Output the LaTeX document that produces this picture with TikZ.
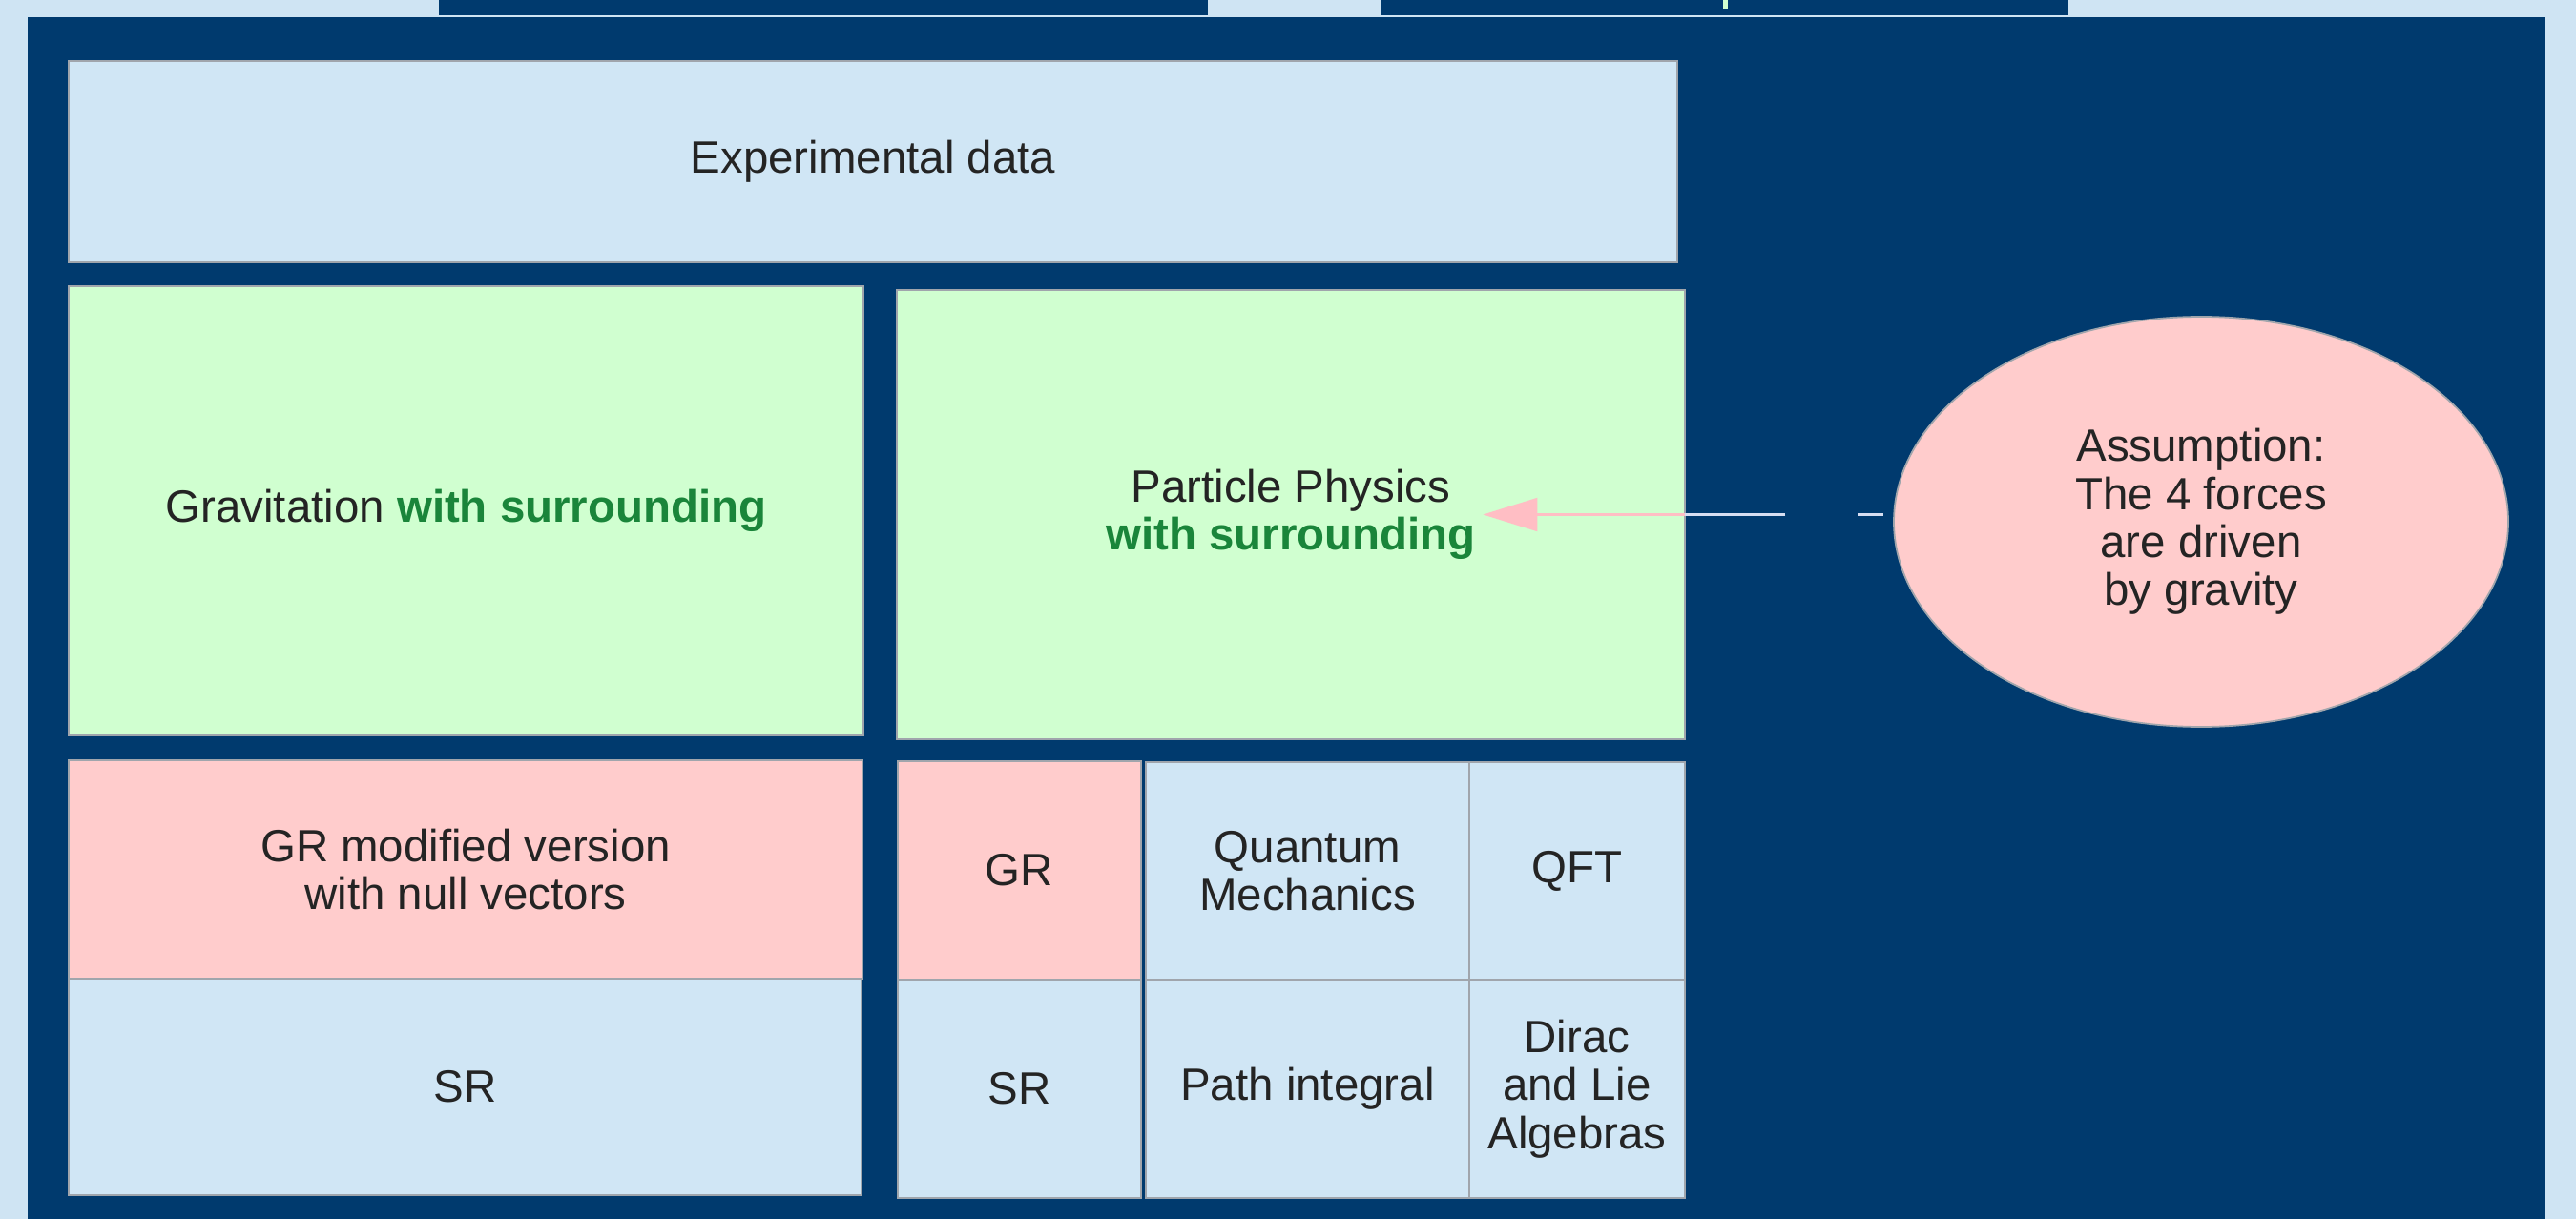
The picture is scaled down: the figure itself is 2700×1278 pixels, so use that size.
\documentclass[tikz,border=0pt]{standalone}
\usepackage{fontspec}
\setmainfont{Liberation Sans}
\usepackage{tikz}
\usetikzlibrary{positioning,arrows.meta,shapes.geometric}
\definecolor{paleblue}{RGB}{207,228,243}
\definecolor{navy}{RGB}{0,58,110}
\definecolor{boxblue}{RGB}{208,230,245}
\definecolor{boxgreen}{RGB}{208,255,208}
\definecolor{boxpink}{RGB}{255,204,204}
\definecolor{textgray}{RGB}{36,36,36}
\definecolor{surrgreen}{RGB}{26,133,58}
\definecolor{edgegray}{RGB}{160,165,172}
\definecolor{arrowpink}{RGB}{255,190,196}
\definecolor{linelight}{RGB}{214,222,242}
\newcommand{\withsurr}{\textcolor{surrgreen}{\bfseries with surrounding}}

\begin{document}
\begin{tikzpicture}[x=0.1mm,y=-0.1mm,
  font=\fontsize{13.5}{14.3}\selectfont,text=textgray,
  pane/.style n args={3}{draw=edgegray,line width=0.5pt,fill=#1,
    minimum width=#2*0.1mm,minimum height=#3*0.1mm,inner sep=0pt,outer sep=0pt,align=center}]
  % page + slide frame
  \useasboundingbox (0,0) rectangle (2700,1278);
  \fill[paleblue] (0,0) rectangle (2700,1278);
  \fill[navy] (460,0) rectangle (1266,16);
  \fill[navy] (1448,0) rectangle (2168,16);
  \fill[boxgreen] (1806,0) rectangle (1811,9);   % cut-off title
  \fill[navy] (29,18) rectangle (2667,1278);
  % top row
  \node[pane={boxblue}{1686}{211}] (expdata) at (915,169.5) {Experimental data};
  % middle row
  \node[pane={boxgreen}{833}{471}] (grav) at (488.5,535.5) {Gravitation \withsurr};
  \node[pane={boxgreen}{826}{471}] (part) at (1353,539.5) {};
  \node[align=center,inner sep=2pt] (ptext) at (part.center) {Particle Physics\\\withsurr};
  % bottom left
  \node[pane={boxpink}{832}{229}] (grmod) at (488,911.5) {GR modified version\\with null vectors};
  \node[pane={boxblue}{831}{227}] (srleft) at (487.5,1139.5) {SR};
  % bottom right
  \node[pane={boxpink}{255}{229}] (gr) at (1068.5,912.5) {GR};
  \node[pane={boxblue}{255}{229}] (srright) at (1068.5,1141.5) {SR};
  \node[pane={boxblue}{339}{228}] (qm) at (1370.5,913) {Quantum\\Mechanics};
  \node[pane={boxblue}{226}{228}] (qft) at (1653,913) {QFT};
  \node[pane={boxblue}{339}{229}] (path) at (1370.5,1141.5) {Path integral};
  \node[pane={boxblue}{226}{229}] (dirac) at (1653,1141.5) {Dirac\\and Lie\\Algebras};
  % assumption
  \node[ellipse,draw=edgegray,line width=0.5pt,fill=boxpink,minimum width=64.4mm,
    minimum height=43mm,inner sep=0pt,align=center] (assume) at (2307,547)
    {Assumption:\\The 4 forces\\are driven\\by gravity};
  % arrow into particle physics
  \coordinate[right=31.7mm of ptext] (tail);
  \coordinate[right=7.6mm of tail] (dashl);
  \coordinate[right=2.7mm of dashl] (dashr);
  \draw[arrowpink,line width=0.6pt,-{Triangle[length=5.7mm,width=3.5mm]}] (tail) -- (ptext.east);
  \draw[linelight,line width=0.7pt] (part.east |- tail) -- (tail);
  \draw[linelight,line width=0.7pt] (dashl) -- (dashr);
\end{tikzpicture}
\end{document}
